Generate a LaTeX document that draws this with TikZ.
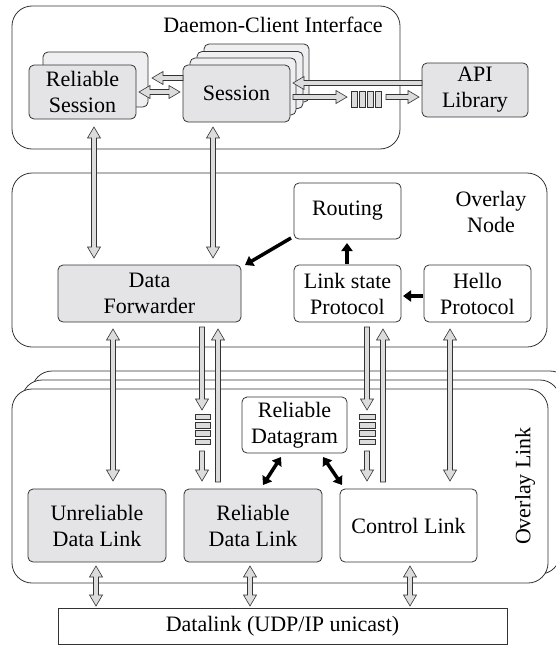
\documentclass[tikz,border=0pt]{standalone}
\usepackage{fontspec}
\setmainfont{Liberation Serif}
\usetikzlibrary{calc,arrows.meta}
\definecolor{boxgray}{HTML}{E4E4E6}
\definecolor{backgray}{HTML}{EFEFF1}
\definecolor{arrgray}{HTML}{DCDCDC}
\definecolor{edge}{HTML}{333333}
\tikzset{
 base/.style={draw=edge, line width=0.8pt, rounded corners=5pt, inner sep=0pt, align=center, font=\fontsize{22}{26}\selectfont},
 gbox/.style={base, fill=boxgray},
 wbox/.style={base, fill=white},
 bkbox/.style={base, fill=backgray},
 container/.style={draw=edge, line width=0.8pt, rounded corners=20pt, fill=white, inner sep=0pt},
 harr/.style={fill=arrgray, draw=edge, line width=0.6pt, line join=miter},
 barr/.style={line width=3.5pt, -{Triangle[length=8pt,width=11pt]}},
 dbarr/.style={line width=3.5pt, {Triangle[length=8pt,width=11pt]}-{Triangle[length=8pt,width=11pt]}},
 qcell/.style={draw=edge, line width=0.6pt, fill=arrgray, inner sep=0pt},
 lbl/.style={font=\fontsize{22}{26}\selectfont, align=center, inner sep=0pt}
}
\newcommand\onearrow[2]{%
  \path ($(#2)!11pt!(#1)$) coordinate (bH);
  \filldraw[harr] ($(#1)!2.5pt!90:(#2)$) -- ($(bH)!2.5pt!90:(#2)$) -- ($(bH)!6.5pt!90:(#2)$) -- (#2) -- ($(bH)!6.5pt!-90:(#2)$) -- ($(bH)!2.5pt!-90:(#2)$) -- ($(#1)!2.5pt!-90:(#2)$) -- cycle;}
\newcommand\twoarrow[2]{%
  \path ($(#1)!11pt!(#2)$) coordinate (bA) ($(#2)!11pt!(#1)$) coordinate (bB);
  \filldraw[harr] (#1) -- ($(bA)!6.5pt!90:(#2)$) -- ($(bA)!2.5pt!90:(#2)$) -- ($(bB)!2.5pt!90:(#2)$) -- ($(bB)!6.5pt!90:(#2)$) -- (#2) -- ($(bB)!6.5pt!-90:(#2)$) -- ($(bB)!2.5pt!-90:(#2)$) -- ($(bA)!2.5pt!-90:(#2)$) -- ($(bA)!6.5pt!-90:(#2)$) -- cycle;}
\begin{document}
\begin{tikzpicture}[x=1pt,y=-1pt]
\useasboundingbox (0,0) rectangle (556,645);
\clip (0,0) rectangle (556,645);
% containers
\node[container, minimum width=388pt, minimum height=143pt] (dci) at (206,77.5) {};
\node[lbl] (dcit) at (273,25) {Daemon-Client Interface};
\node[container, minimum width=535pt, minimum height=174pt] (onode) at (279.5,260) {};
\node[lbl] (onodet) at (491,212) {Overlay\\Node};
\node[container, minimum width=538pt, minimum height=194pt] (olink3) at (301,468) {};
\node[container, minimum width=538pt, minimum height=194pt] (olink2) at (291,477) {};
\node[container, minimum width=536pt, minimum height=194pt] (olink) at (280,486) {};
\node[lbl, rotate=90] (olinkt) at (525,486) {Overlay Link};
% daemon-client boxes
\node[bkbox, minimum width=105pt, minimum height=55pt] (rsb) at (95.5,79.5) {};
\node[gbox, minimum width=107pt, minimum height=54pt] (rs) at (82.5,92) {Reliable\\Session};
\node[bkbox, minimum width=105pt, minimum height=58pt] (sb3) at (256.5,73) {};
\node[bkbox, minimum width=106pt, minimum height=57pt] (sb2) at (250,80) {};
\node[bkbox, minimum width=106pt, minimum height=57pt] (sb1) at (243,86.5) {};
\node[gbox, minimum width=107pt, minimum height=57pt] (ses) at (236.5,93.5) {Session};
\node[gbox, minimum width=106pt, minimum height=54pt] (api) at (475,90) {API\\Library};
\foreach \i in {0,1,2,3} {
  \node[qcell, minimum width=6pt, minimum height=16pt] (qa\i) at (354+8*\i,99) {};
}
% overlay node boxes
\node[wbox, minimum width=107pt, minimum height=56pt] (rout) at (347.5,211) {Routing};
\node[gbox, minimum width=183pt, minimum height=57pt] (df) at (149.5,293.5) {Data\\Forwarder};
\node[wbox, minimum width=107pt, minimum height=57pt] (ls) at (347.5,293.5) {Link state\\Protocol};
\node[wbox, minimum width=107pt, minimum height=57pt] (hello) at (477.5,293.5) {Hello\\Protocol};
% overlay link boxes
\node[wbox, minimum width=105pt, minimum height=56pt] (rd) at (294.5,425) {Reliable\\Datagram};
\foreach \i in {0,1,2,3} {
  \node[qcell, minimum width=15pt, minimum height=5.5pt] (qb\i) at (202.5,416.75+8.3*\i) {};
  \node[qcell, minimum width=16pt, minimum height=5.5pt] (qc\i) at (367,416.75+8.3*\i) {};
}
\node[gbox, minimum width=138pt, minimum height=73pt] (udl) at (97,525.5) {Unreliable\\Data Link};
\node[gbox, minimum width=138pt, minimum height=73pt] (rdl) at (253,525.5) {Reliable\\Data Link};
\node[wbox, minimum width=137pt, minimum height=73pt] (cl) at (408.5,525.5) {Control Link};
\node[draw=edge, line width=0.8pt, fill=white, minimum width=449pt, minimum height=36pt, lbl] (dl) at (282.5,626) {Datalink (UDP/IP unicast)};
% block arrow end points
\coordinate (s2rsA) at (183,78);  \coordinate (s2rsB) at (152,78);
\coordinate (rsdA) at (139,92);   \coordinate (rsdB) at (180,92);
\coordinate (apiA) at (422,83);   \coordinate (apiB) at (293,83);
\coordinate (sqA) at (293,97);    \coordinate (sqB) at (347,97);
\coordinate (qaA) at (386,97);    \coordinate (qaB) at (419,97);
\coordinate (v1A) at (94,127);    \coordinate (v1B) at (94,258);
\coordinate (v2A) at (213,127);   \coordinate (v2B) at (213,258);
\coordinate (v3A) at (113,329);   \coordinate (v3B) at (113,481);
\coordinate (v4A) at (202,327);   \coordinate (v4B) at (202,410);
\coordinate (v5A) at (202,451);   \coordinate (v5B) at (202,481);
\coordinate (v6A) at (218,482);   \coordinate (v6B) at (218,329);
\coordinate (v7A) at (367,327);   \coordinate (v7B) at (367,410);
\coordinate (v8A) at (367,451);   \coordinate (v8B) at (367,481);
\coordinate (v9A) at (383,482);   \coordinate (v9B) at (383,329);
\coordinate (v10A) at (450,329);  \coordinate (v10B) at (450,481);
\coordinate (d1A) at (96,566);    \coordinate (d1B) at (96,606);
\coordinate (d2A) at (250,566);   \coordinate (d2B) at (250,606);
\coordinate (d3A) at (410,566);   \coordinate (d3B) at (410,606);
\onearrow{s2rsA}{s2rsB}
\twoarrow{rsdA}{rsdB}
\onearrow{apiA}{apiB}
\onearrow{sqA}{sqB}
\onearrow{qaA}{qaB}
\twoarrow{v1A}{v1B}
\twoarrow{v2A}{v2B}
\twoarrow{v3A}{v3B}
\onearrow{v4A}{v4B}
\onearrow{v5A}{v5B}
\onearrow{v6A}{v6B}
\onearrow{v7A}{v7B}
\onearrow{v8A}{v8B}
\onearrow{v9A}{v9B}
\twoarrow{v10A}{v10B}
\twoarrow{d1A}{d1B}
\twoarrow{d2A}{d2B}
\twoarrow{d3A}{d3B}
% black arrows
\coordinate (rtA) at (291,238); \coordinate (rtB) at (245,265);
\coordinate (lsA) at (347,264); \coordinate (lsB) at (347,243);
\coordinate (hlA) at (423,296); \coordinate (hlB) at (403,296);
\coordinate (r1A) at (281,457); \coordinate (r1B) at (263,485);
\coordinate (r2A) at (323,457); \coordinate (r2B) at (342,485);
\draw[barr] (rtA) -- (rtB);
\draw[barr] (lsA) -- (lsB);
\draw[barr] (hlA) -- (hlB);
\draw[dbarr] (r1A) -- (r1B);
\draw[dbarr] (r2A) -- (r2B);
\end{tikzpicture}
\end{document}
